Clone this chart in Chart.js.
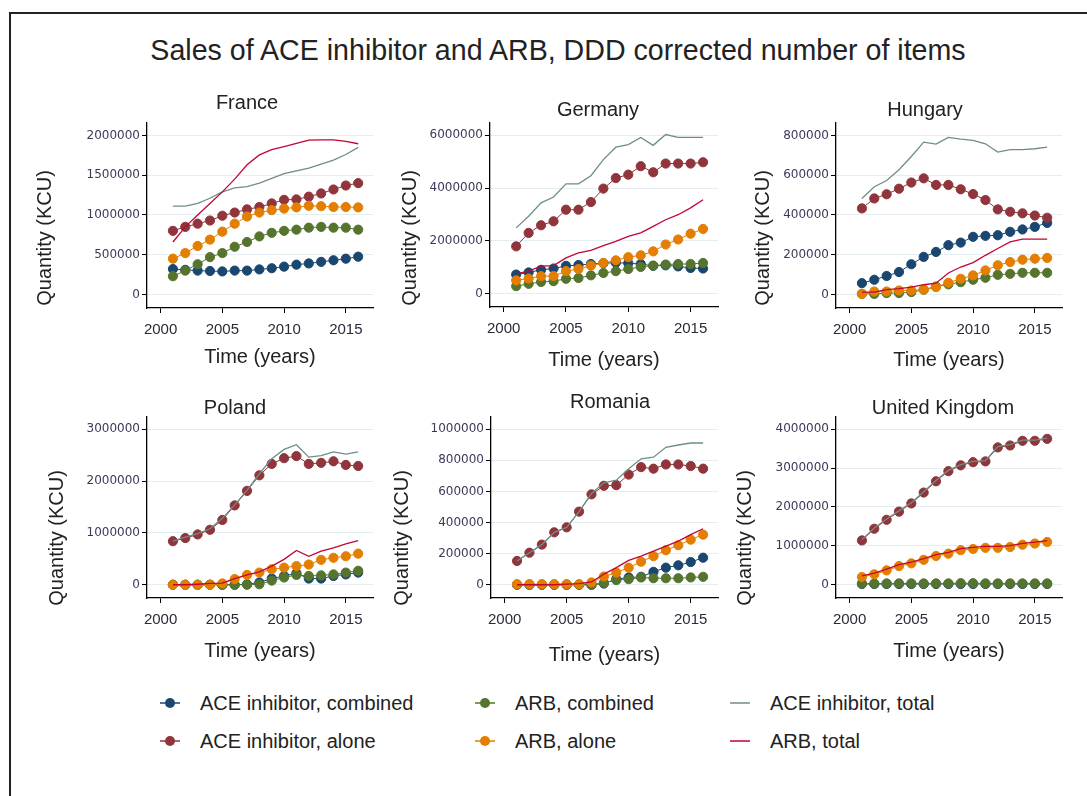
<!DOCTYPE html>
<html>
<head>
<meta charset="utf-8">
<script src="https://cdn.jsdelivr.net/npm/chart.js@4.4.0/dist/chart.umd.min.js"></script>
<style>
  html, body { margin: 0; padding: 0; background: #fff; }
  body { width: 1087px; height: 796px; position: relative; overflow: hidden;
         font-family: 'Liberation Sans', Arial, sans-serif; color: #222; }
  #frame { position: absolute; left: 9px; top: 12px; width: 1100px; height: 800px;
           border-left: 2px solid #222; border-top: 2px solid #222; }
  #mainTitle { position: absolute; left: 0; width: 1116px; top: 33px; text-align: center;
               font-size: 28.6px; line-height: 34px; }
  .leg { position: absolute; font-size: 20px; line-height: 24px; white-space: nowrap; }
  .leg svg { position: absolute; }
</style>
</head>
<body>
<div id="frame"></div>
<div id="mainTitle">Sales of ACE inhibitor and ARB, DDD corrected number of items</div>
<div id="legend"></div>
<script>
// years on the x axis
const years = [2001, 2002, 2003, 2004, 2005, 2006, 2007, 2008, 2009, 2010, 2011, 2012, 2013, 2014, 2015, 2016];
const xTicks = [2000, 2005, 2010, 2015];

const seriesNames = ['ACE inhibitor, combined', 'ACE inhibitor, alone', 'ARB, combined',
                     'ARB, alone', 'ACE inhibitor, total', 'ARB, total'];
const seriesColors = ['#1a476f', '#90353b', '#55752f', '#e37e00', '#6e8e84', '#c10534'];
const seriesMarker = [true, true, true, true, false, false];

// France
const franceTicks = [0, 500000, 1000000, 1500000, 2000000];
const franceAceCombined = [320000, 310000, 300000, 295000, 290000, 300000, 300000, 315000, 330000, 350000, 375000, 390000, 410000, 430000, 450000, 475000];
const franceAceAlone = [800000, 850000, 890000, 930000, 990000, 1030000, 1070000, 1100000, 1145000, 1190000, 1195000, 1230000, 1270000, 1320000, 1370000, 1400000];
const franceArbCombined = [230000, 300000, 380000, 470000, 520000, 600000, 660000, 730000, 775000, 800000, 815000, 840000, 850000, 840000, 840000, 815000];
const franceArbAlone = [450000, 520000, 610000, 690000, 790000, 890000, 980000, 1030000, 1060000, 1080000, 1095000, 1115000, 1110000, 1100000, 1100000, 1095000];
const franceAceTotal = [1110000, 1110000, 1145000, 1210000, 1290000, 1340000, 1355000, 1400000, 1460000, 1520000, 1555000, 1590000, 1640000, 1690000, 1760000, 1850000];
const franceArbTotal = [660000, 850000, 1000000, 1145000, 1290000, 1450000, 1630000, 1755000, 1820000, 1860000, 1900000, 1940000, 1945000, 1945000, 1925000, 1895000];

// Germany
const germanyTicks = [0, 2000000, 4000000, 6000000];
const germanyAceCombined = [720000, 800000, 900000, 950000, 1050000, 1080000, 1120000, 1150000, 1170000, 1150000, 1120000, 1050000, 1070000, 1030000, 970000, 950000];
const germanyAceAlone = [1790000, 2300000, 2590000, 2740000, 3180000, 3180000, 3470000, 3980000, 4380000, 4510000, 4830000, 4600000, 4930000, 4930000, 4930000, 4980000];
const germanyArbCombined = [280000, 370000, 440000, 470000, 560000, 590000, 690000, 780000, 850000, 930000, 1010000, 1060000, 1100000, 1120000, 1120000, 1160000];
const germanyArbAlone = [500000, 570000, 660000, 660000, 850000, 930000, 1060000, 1160000, 1260000, 1380000, 1450000, 1600000, 1860000, 2050000, 2270000, 2450000];
const germanyAceTotal = [2490000, 2930000, 3440000, 3660000, 4160000, 4160000, 4470000, 5080000, 5550000, 5650000, 5920000, 5620000, 6030000, 5920000, 5920000, 5920000];
const germanyArbTotal = [745000, 850000, 1040000, 1060000, 1350000, 1540000, 1640000, 1820000, 1980000, 2170000, 2300000, 2550000, 2800000, 2990000, 3250000, 3560000];

// Hungary
const hungaryTicks = [0, 200000, 400000, 600000, 800000];
const hungaryAceCombined = [57000, 74000, 93000, 113000, 152000, 189000, 214000, 248000, 261000, 290000, 295000, 298000, 315000, 327000, 340000, 360000];
const hungaryAceAlone = [433000, 483000, 504000, 532000, 563000, 584000, 551000, 551000, 529000, 505000, 475000, 428000, 416000, 408000, 397000, 386000];
const hungaryArbCombined = [3000, 3000, 7000, 7000, 12000, 24000, 40000, 51000, 62000, 74000, 84000, 99000, 104000, 109000, 109000, 109000];
const hungaryArbAlone = [3000, 15000, 15000, 20000, 20000, 25000, 37000, 59000, 79000, 96000, 121000, 147000, 163000, 175000, 180000, 184000];
const hungaryAceTotal = [483000, 542000, 573000, 627000, 694000, 766000, 756000, 790000, 781000, 775000, 758000, 716000, 728000, 728000, 733000, 741000];
const hungaryArbTotal = [12000, 12000, 24000, 29000, 37000, 49000, 57000, 108000, 138000, 160000, 197000, 231000, 264000, 278000, 278000, 278000];

// Poland
const polandTicks = [0, 1000000, 2000000, 3000000];
const polandAceCombined = [0, 0, 0, 0, 0, 0, 10000, 45000, 120000, 170000, 220000, 120000, 120000, 170000, 200000, 235000];
const polandAceAlone = [840000, 900000, 970000, 1060000, 1250000, 1530000, 1810000, 2110000, 2330000, 2440000, 2480000, 2330000, 2350000, 2380000, 2310000, 2290000];
const polandArbCombined = [0, 0, 0, 0, 0, 0, 0, 10000, 80000, 140000, 190000, 170000, 180000, 200000, 235000, 270000];
const polandArbAlone = [0, 0, 0, 0, 25000, 110000, 190000, 235000, 300000, 330000, 360000, 390000, 480000, 520000, 550000, 600000];
const polandAceTotal = [840000, 920000, 985000, 1080000, 1280000, 1540000, 1820000, 2140000, 2430000, 2610000, 2700000, 2460000, 2490000, 2560000, 2520000, 2560000];
const polandArbTotal = [0, 0, 10000, 25000, 30000, 120000, 190000, 250000, 360000, 490000, 660000, 550000, 650000, 710000, 790000, 850000];

// Romania
const romaniaTicks = [0, 200000, 400000, 600000, 800000, 1000000];
const romaniaAceCombined = [0, 0, 0, 0, 0, 0, 0, 8000, 36000, 47000, 51000, 83000, 110000, 125000, 146000, 174000];
const romaniaAceAlone = [153000, 206000, 258000, 337000, 369000, 470000, 581000, 636000, 640000, 708000, 756000, 746000, 773000, 773000, 763000, 746000];
const romaniaArbCombined = [0, 0, 0, 0, 0, 0, 0, 13000, 30000, 36000, 47000, 42000, 42000, 42000, 47000, 51000];
const romaniaArbAlone = [4000, 4000, 4000, 4000, 4000, 4000, 15000, 53000, 78000, 110000, 148000, 184000, 222000, 254000, 290000, 322000];
const romaniaAceTotal = [153000, 206000, 258000, 337000, 369000, 470000, 587000, 655000, 672000, 746000, 809000, 820000, 883000, 898000, 911000, 911000];
const romaniaArbTotal = [0, 0, 0, 0, 4000, 8000, 18000, 68000, 110000, 157000, 184000, 216000, 248000, 280000, 322000, 360000];

// United Kingdom
const ukTicks = [0, 1000000, 2000000, 3000000, 4000000];
const ukAceCombined = [20000, 20000, 20000, 20000, 20000, 20000, 20000, 20000, 20000, 20000, 20000, 20000, 20000, 20000, 20000, 20000];
const ukAceAlone = [1140000, 1440000, 1670000, 1880000, 2090000, 2370000, 2660000, 2920000, 3070000, 3150000, 3170000, 3530000, 3580000, 3700000, 3700000, 3750000];
const ukArbCombined = [30000, 30000, 35000, 35000, 35000, 35000, 35000, 35000, 40000, 40000, 35000, 35000, 35000, 35000, 35000, 35000];
const ukArbAlone = [200000, 270000, 370000, 480000, 550000, 640000, 740000, 800000, 890000, 920000, 950000, 950000, 970000, 1030000, 1060000, 1100000];
const ukAceTotal = [1160000, 1460000, 1690000, 1900000, 2110000, 2390000, 2680000, 2940000, 3090000, 3170000, 3190000, 3550000, 3600000, 3720000, 3720000, 3770000];
const ukArbTotal = [230000, 300000, 405000, 515000, 585000, 675000, 775000, 835000, 930000, 960000, 985000, 985000, 1005000, 1065000, 1095000, 1135000];

const panelNames = ['France', 'Germany', 'Hungary', 'Poland', 'Romania', 'United Kingdom'];
const panelTicks = [franceTicks, germanyTicks, hungaryTicks, polandTicks, romaniaTicks, ukTicks];
const panelSeries = [
  [franceAceCombined, franceAceAlone, franceArbCombined, franceArbAlone, franceAceTotal, franceArbTotal],
  [germanyAceCombined, germanyAceAlone, germanyArbCombined, germanyArbAlone, germanyAceTotal, germanyArbTotal],
  [hungaryAceCombined, hungaryAceAlone, hungaryArbCombined, hungaryArbAlone, hungaryAceTotal, hungaryArbTotal],
  [polandAceCombined, polandAceAlone, polandArbCombined, polandArbAlone, polandAceTotal, polandArbTotal],
  [romaniaAceCombined, romaniaAceAlone, romaniaArbCombined, romaniaArbAlone, romaniaAceTotal, romaniaArbTotal],
  [ukAceCombined, ukAceAlone, ukArbCombined, ukArbAlone, ukAceTotal, ukArbTotal]
];

// plot box of each panel on the page (axis corner, title spots)
const panelBoxes = [
  { L: 147, T: 123, B: 308, R: 373,  titleX: 247, titleY: 103, yTitleX: 45,  yTitleY: 238, xTitleY: 358 },
  { L: 490, T: 123, B: 307, R: 718,  titleX: 598, titleY: 110, yTitleX: 410, yTitleY: 238, xTitleY: 361 },
  { L: 836, T: 123, B: 308, R: 1062, titleX: 925, titleY: 110, yTitleX: 763, yTitleY: 238, xTitleY: 361 },
  { L: 147, T: 417, B: 598, R: 373,  titleX: 235, titleY: 408, yTitleX: 57,  yTitleY: 538, xTitleY: 652 },
  { L: 491, T: 417, B: 598, R: 718,  titleX: 610, titleY: 402, yTitleX: 402, yTitleY: 538, xTitleY: 656 },
  { L: 836, T: 417, B: 598, R: 1062, titleX: 943, titleY: 408, yTitleX: 745, yTitleY: 538, xTitleY: 652 }
];

Chart.defaults.font.family = "'Liberation Sans', Arial, sans-serif";

// panel heading and rotated y title
const panelText = {
  id: 'panelText',
  afterDraw(chart, args, opts) {
    const { ctx, chartArea } = chart;
    ctx.save();
    ctx.fillStyle = '#222';
    ctx.font = "20px 'Liberation Sans', Arial, sans-serif";
    ctx.textAlign = 'center';
    ctx.textBaseline = 'middle';
    ctx.fillText(opts.title, chartArea.left + opts.titleDx, chartArea.top - opts.titleDy);
    ctx.translate(chartArea.left - opts.yTitleDx, (chartArea.top + chartArea.bottom) / 2 + opts.yTitleDy);
    ctx.rotate(-Math.PI / 2);
    ctx.fillText('Quantity (KCU)', 0, 0);
    ctx.restore();
  }
};

function makePanel(i) {
  const box = panelBoxes[i];
  const ticks = panelTicks[i];
  const tickMax = ticks[ticks.length - 1];
  const left = box.L - 120, top = box.T - 50;

  const canvas = document.createElement('canvas');
  canvas.width = box.R - box.L + 140;
  canvas.height = box.xTitleY + 11 - top;
  canvas.style.cssText = `position:absolute;left:${left}px;top:${top}px;`;
  document.body.appendChild(canvas);

  new Chart(canvas, {
    type: 'line',
    data: {
      datasets: seriesNames.map((name, k) => ({
        label: name,
        data: years.map((yr, j) => ({ x: yr, y: panelSeries[i][k][j] })),
        borderColor: seriesColors[k],
        backgroundColor: seriesColors[k],
        borderWidth: seriesMarker[k] ? 1 : 1.3,
        pointRadius: seriesMarker[k] ? 4.6 : 0,
        pointBorderWidth: 1,
        pointHoverRadius: 0,
        tension: 0,
        order: 6 - k
      }))
    },
    options: {
      responsive: false,
      animation: false,
      devicePixelRatio: 1,
      layout: { padding: { left: 0, top: 50, right: 20, bottom: 0 } },
      plugins: {
        legend: { display: false },
        tooltip: { enabled: false },
        panelText: {
          title: panelNames[i],
          titleDx: box.titleX - box.L,
          titleDy: box.T - box.titleY,
          yTitleDx: box.L - box.yTitleX,
          yTitleDy: box.yTitleY - (box.T + box.B) / 2
        }
      },
      scales: {
        x: {
          type: 'linear',
          min: 1998.9,
          max: 2017.2,
          afterBuildTicks: s => { s.ticks = xTicks.map(v => ({ value: v })); },
          afterFit: s => { s.height = box.xTitleY + 11 - box.B; },
          grid: { drawOnChartArea: false, tickLength: 5, tickColor: '#000' },
          border: { color: '#000', width: 1.3 },
          ticks: { font: { size: 15 }, color: '#2a2a3a', padding: 8, callback: v => String(v) },
          title: { display: true, text: 'Time (years)', font: { size: 20 }, color: '#222', padding: 0 }
        },
        y: {
          min: -0.085 * tickMax,
          max: 1.078 * tickMax,
          afterBuildTicks: s => { s.ticks = ticks.map(v => ({ value: v })); },
          afterFit: s => { s.width = 120; },
          grid: { color: '#e3edf2', lineWidth: 1, tickLength: 5, tickColor: '#000' },
          border: { color: '#000', width: 1.3 },
          ticks: { font: { family: "'DejaVu Sans', sans-serif", size: 12 }, color: '#3a3a5a', padding: 2, callback: v => String(v) }
        }
      }
    },
    plugins: [panelText]
  });
}

panelNames.forEach((n, i) => makePanel(i));

// shared legend: three columns of two entries
const legendCols = [170, 485, 740];
const legendRows = [703, 741];
const legend = document.getElementById('legend');
seriesNames.forEach((name, k) => {
  const cx = legendCols[Math.floor(k / 2)];
  const cy = legendRows[k % 2];
  const item = document.createElement('div');
  item.className = 'leg';
  item.style.left = (cx + 30) + 'px';
  item.style.top = (cy - 12) + 'px';
  const col = seriesColors[k];
  const dot = seriesMarker[k] ? `<circle cx="12" cy="7" r="5" fill="${col}"/>` : '';
  item.innerHTML = `<svg width="24" height="14" style="left:-42px;top:5px">` +
    `<line x1="2" y1="7" x2="22" y2="7" stroke="${col}" stroke-width="1.5"/>${dot}</svg>${name}`;
  legend.appendChild(item);
});
</script>
</body>
</html>
